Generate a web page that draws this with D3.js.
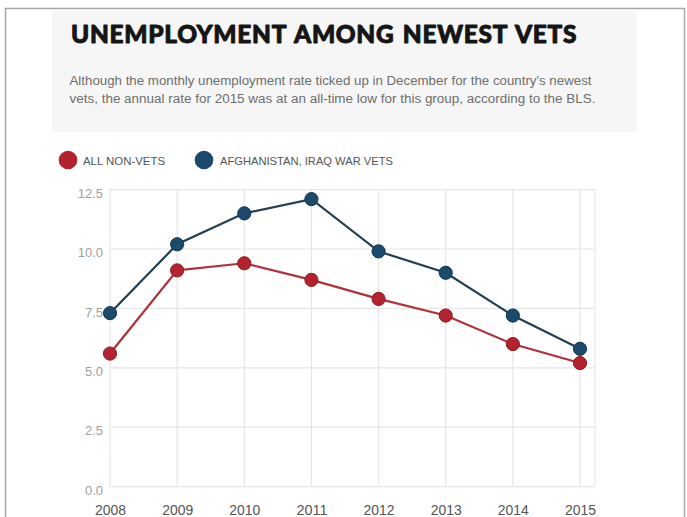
<!DOCTYPE html>
<html>
<head>
<meta charset="utf-8">
<script src="https://cdn.jsdelivr.net/npm/d3@7"></script>
<style>
  html, body { margin: 0; padding: 0; background: #fff; }
  svg { display: block; }
</style>
</head>
<body>
<svg id="chart" width="687" height="517"></svg>
<script>
// Annual unemployment rate (%)
const years = [2008, 2009, 2010, 2011, 2012, 2013, 2014, 2015];
const nonVets = [5.6, 9.1, 9.4, 8.7, 7.9, 7.2, 6.0, 5.2];
const warVets = [7.3, 10.2, 11.5, 12.1, 9.9, 9.0, 7.2, 5.8];
const yTicks = [0, 2.5, 5, 7.5, 10, 12.5];
const seriesNames = ["ALL NON-VETS", "AFGHANISTAN, IRAQ WAR VETS"];

const title = "UNEMPLOYMENT AMONG NEWEST VETS";
const subtitle = [
  "Although the monthly unemployment rate ticked up in December for the country's newest",
  "vets, the annual rate for 2015 was at an all-time low for this group, according to the BLS."
];

const colors = {
  red:  { fill: "#b2232d", line: "#b0313b", stroke: "#8e1c24" },
  blue: { fill: "#1b4a6c", line: "#233f53", stroke: "#143750" }
};

const svg = d3.select("#chart");

// outer frame
svg.append("rect")
  .attr("x", 5.5).attr("y", 8.5)
  .attr("width", 679).attr("height", 520)
  .attr("fill", "#fff")
  .attr("stroke", "#a8a8a8").attr("stroke-width", 1.5);

// header panel
svg.append("rect")
  .attr("x", 52).attr("y", 11)
  .attr("width", 585).attr("height", 121)
  .attr("fill", "#f6f6f6");

const titleText = svg.append("text")
  .attr("x", 71).attr("y", 42.5)
  .attr("font-family", "Lato, 'DejaVu Sans', sans-serif")
  .attr("font-weight", 900)
  .attr("font-size", 21.5)
  .attr("letter-spacing", 0.7)
  .attr("word-spacing", 2)
  .attr("fill", "#151515")
  .attr("stroke", "#151515")
  .attr("stroke-width", 0.9)
  .attr("stroke-linejoin", "round")
  .text(title);
// fit the heading to its column width
const tw = titleText.node().getComputedTextLength();
if (Math.abs(tw - 510) > 4) {
  titleText.attr("font-size", 21.5 * 510 / tw);
}

svg.selectAll("text.sub")
  .data(subtitle)
  .join("text")
  .attr("class", "sub")
  .attr("x", 69.5)
  .attr("y", (d, i) => 85 + i * 18)
  .attr("font-family", "'Liberation Sans', Arial, sans-serif")
  .attr("font-size", 12)
  .attr("fill", "#6e6e6e")
  .attr("textLength", (d, i) => i === 0 ? 522 : 526)
  .attr("lengthAdjust", "spacingAndGlyphs")
  .text(d => d);

// legend
const legend = [
  { name: seriesNames[0], c: colors.red,  cx: 68,  tx: 83,  w: 82 },
  { name: seriesNames[1], c: colors.blue, cx: 204, tx: 220, w: 173 }
];
const lg = svg.append("g");
lg.selectAll("circle").data(legend).join("circle")
  .attr("cx", d => d.cx).attr("cy", 160).attr("r", 9.3)
  .attr("fill", d => d.c.fill);
lg.selectAll("text").data(legend).join("text")
  .attr("x", d => d.tx).attr("y", 164.5)
  .attr("font-family", "'Liberation Sans', Arial, sans-serif")
  .attr("font-size", 11.5)
  .attr("fill", "#555")
  .attr("textLength", d => d.w)
  .attr("lengthAdjust", "spacingAndGlyphs")
  .text(d => d.name);

// scales
const x = d3.scalePoint().domain(years).range([110, 580]);
const y = d3.scaleLinear().domain([0, 12.5]).range([486.6, 189.6]);
const gridLeft = 109, gridRight = 595;

const grid = svg.append("g").attr("stroke", "#e6e6e6").attr("stroke-width", 1.2);
grid.selectAll("line.h").data(yTicks).join("line")
  .attr("class", "h")
  .attr("x1", gridLeft).attr("x2", gridRight)
  .attr("y1", d => y(d)).attr("y2", d => y(d));
grid.selectAll("line.v").data(years).join("line")
  .attr("class", "v")
  .attr("x1", d => x(d)).attr("x2", d => x(d))
  .attr("y1", y(12.5)).attr("y2", y(0));
grid.append("line")
  .attr("x1", gridRight).attr("x2", gridRight)
  .attr("y1", y(12.5)).attr("y2", y(0));

// y axis labels
const yAxis = d3.axisLeft(y).tickValues(yTicks).tickFormat(d3.format(".1f")).tickSize(0).tickPadding(0);
svg.append("g")
  .attr("transform", "translate(103,3.5)")
  .call(yAxis)
  .call(g => g.select(".domain").remove())
  .call(g => g.selectAll("text")
    .attr("font-family", "'Liberation Sans', Arial, sans-serif")
    .attr("font-size", 13)
    .attr("fill", "#a0a0a0"));

// x axis labels
const xAxis = d3.axisBottom(x).tickSize(0).tickPadding(0);
svg.append("g")
  .attr("transform", "translate(0,505)")
  .call(xAxis)
  .call(g => g.select(".domain").remove())
  .call(g => g.selectAll("text")
    .attr("dy", "0.71em")
    .attr("font-family", "'Liberation Sans', Arial, sans-serif")
    .attr("font-size", 14)
    .attr("fill", "#555")
    .attr("textLength", 31)
    .attr("lengthAdjust", "spacingAndGlyphs"));

// series
const series = [
  { values: nonVets, c: colors.red },
  { values: warVets, c: colors.blue }
];
const line = d3.line().x((d, i) => x(years[i])).y(d => y(d));

series.forEach(s => {
  svg.append("path")
    .datum(s.values)
    .attr("d", line)
    .attr("fill", "none")
    .attr("stroke", s.c.line)
    .attr("stroke-width", 2.2);
  svg.append("g").selectAll("circle")
    .data(s.values)
    .join("circle")
    .attr("cx", (d, i) => x(years[i]))
    .attr("cy", d => y(d))
    .attr("r", 6.6)
    .attr("fill", s.c.fill)
    .attr("stroke", s.c.stroke)
    .attr("stroke-width", 1);
});
</script>
</body>
</html>
